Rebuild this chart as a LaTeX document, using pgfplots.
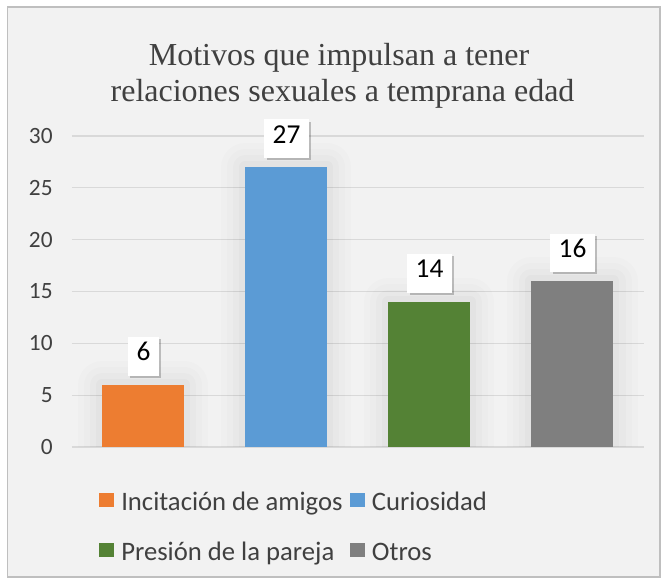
\documentclass[border=0pt]{standalone}
\usepackage{fontspec}
\setmainfont{Carlito}
\newfontfamily\titlefont{Liberation Serif}
\usepackage{pgfplots}
\pgfplotsset{compat=1.18}
\usetikzlibrary{shadows}
\definecolor{cOrange}{HTML}{ED7D31}
\definecolor{cBlue}{HTML}{5B9BD5}
\definecolor{cGreen}{HTML}{548235}
\definecolor{cGray}{HTML}{7F7F7F}
\definecolor{cBorder}{HTML}{BFBFBF}
\definecolor{cBg}{HTML}{F2F2F2}
\definecolor{cGrid}{HTML}{D9D9D9}
\definecolor{cText}{HTML}{404040}
\pgfplotsset{
  halo/.style={forget plot, fill=none, draw=black, line join=round},
  lab/.style={nodes near coords, nodes near coords style={
      font=\fontsize{20.5}{24}\selectfont, text=black, fill=white,
      inner xsep=6.2pt, inner ysep=0pt, text height=0.65em, text depth=0pt,
      minimum width=22.5pt, minimum height=29pt, anchor=south, yshift=6.5pt,
      drop shadow={shadow xshift=1.6pt, shadow yshift=-1.6pt, opacity=0.22, fill=black}}},
}
\begin{document}
\begin{tikzpicture}
\useasboundingbox (0,0) rectangle (498.75pt,435.75pt);
\fill[white] (0,0) rectangle (498.75pt,435.75pt);
\draw[draw=cBorder, line width=1.2pt, fill=cBg] (5.6pt,3pt) rectangle (495pt,430.5pt);
\node[anchor=base, font=\titlefont\fontsize{24}{28}\selectfont, text=cText, inner sep=0pt] at (254.25pt,386.25pt) {Motivos que impulsan a tener};
\node[anchor=base, font=\titlefont\fontsize{24}{28}\selectfont, text=cText, inner sep=0pt] at (256.9pt,359.25pt) {relaciones sexuales a temprana edad};
\begin{axis}[
  at={(54pt,100.5pt)}, anchor=south west, scale only axis,
  width=429pt, height=233.25pt,
  xmin=-0.5, xmax=3.5, ymin=0, ymax=30,
  ytick={0,5,...,30}, xtick=\empty,
  axis line style={draw=none}, major tick length=0pt,
  ymajorgrids, grid style={cGrid, line width=0.9pt},
  /pgf/number format/assume math mode=true,
  yticklabel style={font=\fontsize{17.5}{21}\selectfont, text=cText, xshift=-11pt},
  ybar, bar width=61.5pt, bar shift=0pt,
  clip mode=individual,
  legend columns=2, legend cell align=left,
  legend style={at={(0.0472,-0.146)}, anchor=north west, draw=none, fill=none,
    inner sep=0pt, font=\fontsize{20}{24}\selectfont, text=cText,
    column sep=5.5pt, row sep=21.5pt,
    nodes={inner sep=0pt, text height=0.75em, text depth=0.25em}},
  legend image code/.code={\fill[#1] (0pt,0pt) rectangle (11pt,11pt);},
]
% soft halo around bars
\addplot[halo, line width=36pt, draw opacity=0.010] coordinates {(0,6) (1,27) (2,14) (3,16)};
\addplot[halo, line width=27pt, draw opacity=0.012] coordinates {(0,6) (1,27) (2,14) (3,16)};
\addplot[halo, line width=18pt, draw opacity=0.015] coordinates {(0,6) (1,27) (2,14) (3,16)};
\addplot[halo, line width=9pt, draw opacity=0.02] coordinates {(0,6) (1,27) (2,14) (3,16)};
% bars
\addplot[fill=cOrange, draw=none, lab] coordinates {(0,6)};
\addlegendentry{Incitación de amigos}
\addplot[fill=cBlue, draw=none, lab] coordinates {(1,27)};
\addlegendentry{Curiosidad}
\addplot[fill=cGreen, draw=none, lab] coordinates {(2,14)};
\addlegendentry{Presión de la pareja}
\addplot[fill=cGray, draw=none, lab] coordinates {(3,16)};
\addlegendentry{Otros}
\end{axis}
\end{tikzpicture}
\end{document}
